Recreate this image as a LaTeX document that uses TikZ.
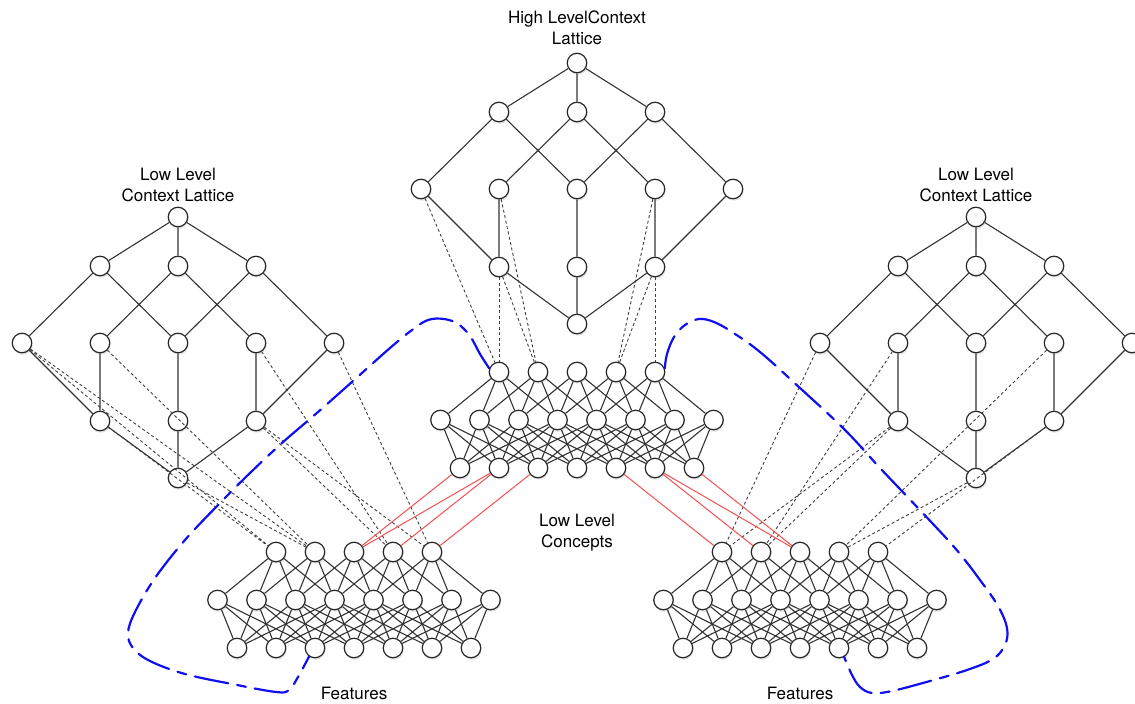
\documentclass[tikz,border=0pt]{standalone}
\usepackage{fontspec}
\setmainfont{TeX Gyre Heros}
\usepackage{tikz}
\usetikzlibrary{positioning,shadows}
\definecolor{linkred}{RGB}{245,80,80}
\definecolor{regionblue}{RGB}{15,15,240}

\begin{document}
\begin{tikzpicture}[x=1pt, y=-1pt, node distance=5pt,
    every node/.style={font=\fontsize{17}{20.5}\selectfont, align=center},
    cnode/.style={circle, draw=black!85, line width=1.2pt, fill=white, minimum size=19.5pt, inner sep=0pt,
      drop shadow={shadow xshift=0.8pt, shadow yshift=-2pt, opacity=0.22}},
    caption/.style={inner sep=0pt},
    latedge/.style={draw=black!80, line width=1.1pt},
    netedge/.style={draw=black!80, line width=1.1pt},
    mapedge/.style={draw=black!75, line width=0.9pt, dash pattern=on 3pt off 2.5pt},
    redlink/.style={draw=linkred, line width=1pt},
    region/.style={draw=regionblue, line width=2.2pt, line cap=round, dash pattern=on 34pt off 9pt on 9pt off 9pt}]
    \useasboundingbox (0,0) rectangle (1135,704);

    % the three context lattices
    \foreach \p/\cx/\cy in {L/178/217, H/577/63, R/976/217} {
        \node[cnode] (\p-top) at (\cx,\cy) {};
        \foreach \i in {1,2,3} {
            \node[cnode] (\p-u\i) at (\cx+78*\i-156,\cy+49) {};
            \node[cnode] (\p-l\i) at (\cx+78*\i-156,\cy+204) {};
        }
        \foreach \i in {1,...,5}
            \node[cnode] (\p-w\i) at (\cx+78*\i-234,\cy+126) {};
        \node[cnode] (\p-bot) at (\cx,\cy+261) {};
    }

    % the three concept networks
    \foreach \q/\nx/\ny in {C/577/372, A/354/552, B/800/552} {
        \foreach \k in {1,...,5}
            \node[cnode] (\q-t\k) at (\nx+39*\k-117,\ny) {};
        \foreach \i in {1,...,8}
            \node[cnode] (\q-h\i) at (\nx+39*\i-175.5,\ny+48) {};
        \foreach \j in {1,...,7}
            \node[cnode] (\q-f\j) at (\nx+39*\j-156,\ny+96) {};
    }

    \node[caption, above=8pt of H-top] (high-title) {High LevelContext\\Lattice};
    \node[caption, above=5pt of L-top] (left-title) {Low Level\\Context Lattice};
    \node[caption, above=5pt of R-top] (right-title) {Low Level\\Context Lattice};
    \node[caption, below=36pt of C-f4] (concepts-label) {Low Level\\Concepts};
    \node[caption, below=29pt of A-f4] (left-features) {Features};
    \node[caption, below=29pt of B-f4] (right-features) {Features};

    % lattice edges
    \foreach \p in {L,H,R} {
        \draw[latedge] (\p-top) -- (\p-u1) (\p-top) -- (\p-u2) (\p-top) -- (\p-u3);
        \draw[latedge] (\p-u1) -- (\p-w1) (\p-u1) -- (\p-w3) (\p-u2) -- (\p-w2) (\p-u2) -- (\p-w4)
            (\p-u3) -- (\p-w3) (\p-u3) -- (\p-w5);
        \draw[latedge] (\p-w1) -- (\p-l1) (\p-w2) -- (\p-l1) (\p-w3) -- (\p-l2) (\p-w4) -- (\p-l3) (\p-w5) -- (\p-l3);
        \draw[latedge] (\p-l1) -- (\p-bot) (\p-l2) -- (\p-bot) (\p-l3) -- (\p-bot);
    }

    % network edges
    \foreach \q in {C,A,B} {
        \foreach \k in {1,...,5}
            \foreach \off in {0,...,3} {
                \pgfmathtruncatemacro\i{\k+\off}
                \draw[netedge] (\q-t\k) -- (\q-h\i);
            }
        \foreach \j in {1,...,7}
            \foreach \off in {-2,...,3} {
                \pgfmathtruncatemacro\i{\j+\off}
                \ifnum\i>0 \ifnum\i<9 \draw[netedge] (\q-h\i) -- (\q-f\j); \fi\fi
            }
    }

    % lattice to concepts
    \foreach \s/\e in {H-w1/C-t1, H-w2/C-t2, H-l1/C-t1, H-l1/C-t2, H-w4/C-t4, H-l3/C-t4, H-l3/C-t5,
        L-w1/A-t1, L-w1/A-t2, L-l1/A-t1, L-bot/A-t2, L-w2/A-t2, L-w4/A-t4, L-w5/A-t5, L-l3/A-t4, L-l3/A-t5,
        R-w1/B-t1, R-w2/B-t2, R-l1/B-t1, R-l1/B-t2, R-w4/B-t4, R-bot/B-t4, R-l3/B-t5}
        \draw[mapedge] (\s) -- (\e);

    \foreach \s/\e in {C-f1/A-t3, C-f2/A-t3, C-f2/A-t4, C-f3/A-t5, C-f5/B-t1, C-f6/B-t2, C-f6/B-t3, C-f7/B-t3}
        \draw[redlink] (\s) -- (\e);

    % regions
    \draw[region] plot[smooth, tension=0.6] coordinates {(C-t1.160) (480,354) (470,336) (458,324) (444,319)
        (428,320) (412,330) (390,348) (353,381) (318,412) (282,443) (250,473) (220,503) (185,540)
        (155,578) (135,612) (128,633) (133,648) (150,661) (185,674) (232,684) (276,692) (289,690)
        (298,677) (A-f3.235)};
    \draw[region] plot[smooth, tension=0.6] coordinates {(C-t5.20) (667,354) (674,337) (685,325) (699,319)
        (714,322) (732,332) (760,352) (800,388) (845,430) (880,468) (917,507) (955,548) (980,580)
        (998,606) (1007,628) (1005,645) (993,659) (967,670) (930,681) (892,691) (872,693) (860,687)
        (852,675) (B-f5.300)};
\end{tikzpicture}
\end{document}
